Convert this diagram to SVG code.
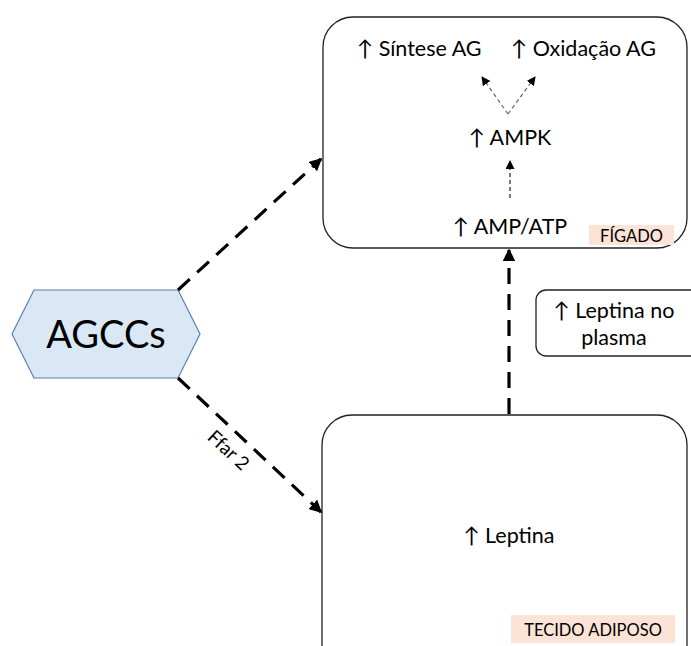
<svg xmlns="http://www.w3.org/2000/svg" width="691" height="646" viewBox="0 0 691 646">
<defs>
<style>
.t{font-family:"Lato","Liberation Sans",sans-serif;fill:#000}
.m{font-size:21.5px}
.box{fill:#fff;stroke:#222;stroke-width:1.3}
.big{fill:none;stroke:#000;stroke-width:3.2;stroke-dasharray:16 10}
.thin{fill:none;stroke:#666;stroke-width:1.2;stroke-dasharray:4 3}
.thin2{fill:none;stroke:#222;stroke-width:1.2;stroke-dasharray:4 3}
</style>
<marker id="ah" markerWidth="4" markerHeight="4" refX="3.5" refY="2" orient="auto" markerUnits="strokeWidth"><path d="M0,0 L4,2 L0,4 Z" fill="#000"/></marker>
<marker id="ahs" markerWidth="9" markerHeight="9" refX="8" refY="4.5" orient="auto" markerUnits="userSpaceOnUse"><path d="M0,0 L9,4.5 L0,9 Z" fill="#000"/></marker>
</defs>
<rect width="691" height="646" fill="#fff"/>
<g id="figado">
<rect class="box" x="323" y="17" width="364" height="231" rx="30"/>
<rect x="589" y="225" width="85" height="20" fill="#fbe3d6"/>
<text class="t" x="631.5" y="242" font-size="16.5" text-anchor="middle">FÍGADO</text>
<text class="t m" x="357" y="56">↑ Síntese AG</text>
<text class="t m" x="511" y="56">↑ Oxidação AG</text>
<text class="t m" x="510" y="145" text-anchor="middle">↑ AMPK</text>
<text class="t m" x="510" y="234" text-anchor="middle">↑ AMP/ATP</text>
</g>
<g id="plasma">
<rect class="box" x="536" y="290" width="170" height="66" rx="10"/>
<text class="t m" x="614" y="318" text-anchor="middle">↑ Leptina no</text>
<text class="t m" x="614" y="345" text-anchor="middle">plasma</text>
</g>
<g id="adiposo">
<rect class="box" x="322" y="415" width="365" height="260" rx="30"/>
<rect x="511" y="615" width="164" height="28" fill="#fbe3d6"/>
<text class="t" x="593" y="636" font-size="16.5" text-anchor="middle">TECIDO ADIPOSO</text>
<text class="t m" x="509" y="543" text-anchor="middle">↑ Leptina</text>
</g>
<g id="agccs">
<polygon points="12,334 34,290 178,290 200,334 178,378 34,378" fill="#dae8f5" stroke="#5a7fb5" stroke-width="1.2"/>
<text class="t" x="106" y="348" font-size="38" text-anchor="middle">AGCCs</text>
</g>
<g id="connectors">
<line class="big" x1="178" y1="290" x2="321" y2="159" marker-end="url(#ah)"/>
<line class="big" x1="178" y1="378" x2="321" y2="512" marker-end="url(#ah)"/>
<line class="big" x1="509" y1="414" x2="509" y2="250" marker-end="url(#ah)"/>
<text class="t" x="0" y="0" font-size="19" text-anchor="middle" transform="translate(224,455) rotate(43)">Ffar 2</text>
<line class="thin" x1="508" y1="114" x2="482" y2="77" marker-end="url(#ahs)"/>
<line class="thin" x1="508" y1="114" x2="535" y2="77" marker-end="url(#ahs)"/>
<line class="thin2" x1="510" y1="198" x2="510" y2="161" marker-end="url(#ahs)"/>
</g>
</svg>
